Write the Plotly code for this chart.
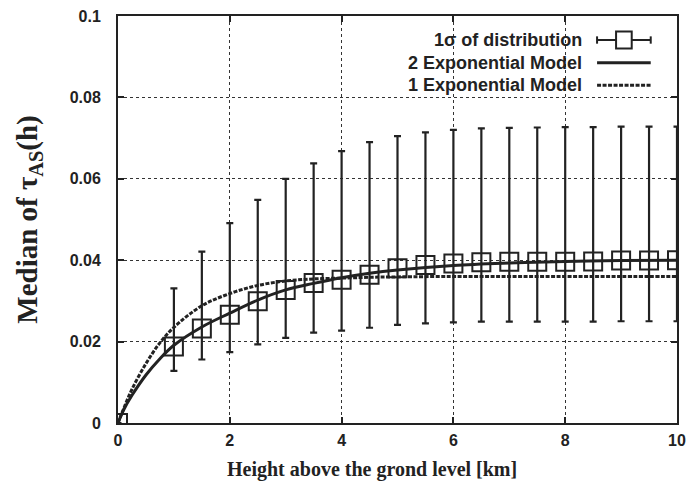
import plotly.graph_objects as go

# measured medians with 1 sigma spread
height_km = [0, 1, 1.5, 2, 2.5, 3, 3.5, 4, 4.5, 5, 5.5, 6, 6.5, 7, 7.5, 8, 8.5, 9, 9.5, 10]
median_tau = [0, 0.0188, 0.0232, 0.0266, 0.0299, 0.0327, 0.0344, 0.0352, 0.0364, 0.0380,
              0.0388, 0.0392, 0.0395, 0.0396, 0.0396, 0.0396, 0.0397, 0.0399, 0.0399, 0.0400]
sigma_upper = [0, 0.0331, 0.0421, 0.0491, 0.0548, 0.0600, 0.0638, 0.0668, 0.0690, 0.0705,
               0.0714, 0.0720, 0.0724, 0.0725, 0.0726, 0.0727, 0.0727, 0.0728, 0.0728, 0.0728]
sigma_lower = [0, 0.0128, 0.0156, 0.0174, 0.0193, 0.0209, 0.0222, 0.0227, 0.0234, 0.0241,
               0.0245, 0.0247, 0.0249, 0.0249, 0.0249, 0.0249, 0.0249, 0.0250, 0.0250, 0.0250]

# model curves
model_x = [0, 0.1, 0.25, 0.5, 0.75, 1, 1.5, 2, 2.5, 3, 3.5, 4, 4.5, 5, 6, 7, 8, 9, 10]
two_exp = [0, 0.0032, 0.0068, 0.0118, 0.0158, 0.0191, 0.0236, 0.0270, 0.0302, 0.0327,
           0.0343, 0.0357, 0.0368, 0.0376, 0.0387, 0.0393, 0.0397, 0.0399, 0.0400]
one_exp = [0, 0.0035, 0.0083, 0.0146, 0.0197, 0.0235, 0.0288, 0.0318, 0.0338, 0.0349,
           0.0354, 0.0356, 0.0358, 0.0359, 0.0360, 0.0360, 0.0360, 0.0360, 0.0360]

x_ticks = [0, 2, 4, 6, 8, 10]
y_ticks = [0, 0.02, 0.04, 0.06, 0.08, 0.1]
y_ticktext = ["0", "0.02", "0.04", "0.06", "0.08", "0.1"]

INK = "#222222"
SANS = "Liberation Sans"
SERIF = "Liberation Serif"
err_plus = [u - m for u, m in zip(sigma_upper, median_tau)]
err_minus = [m - l for m, l in zip(median_tau, sigma_lower)]

fig = go.Figure()

fig.add_trace(go.Scatter(x=model_x, y=two_exp, mode="lines", line_shape="spline",
                         line=dict(color=INK, width=3), name="2 Exponential Model"))
fig.add_trace(go.Scatter(x=model_x, y=one_exp, mode="lines", line_shape="spline",
                         line=dict(color=INK, width=3, dash="4px,1.5px"), name="1 Exponential Model"))
fig.add_trace(go.Scatter(x=height_km, y=median_tau, mode="markers",
                         marker=dict(symbol="square-open", size=18, color=INK, line=dict(width=2, color=INK)),
                         error_y=dict(type="data", symmetric=False, array=err_plus, arrayminus=err_minus,
                                      color=INK, thickness=2.2, width=3.5),
                         name="1σ of distribution"))

# legend drawn gnuplot style: text right-aligned, sample on the right
legend_rows = [("1σ of distribution", 0.941), ("2 Exponential Model", 0.885), ("1 Exponential Model", 0.830)]
shapes = [dict(type="rect", xref="paper", yref="paper", x0=0.50, x1=0.995, y0=0.785, y1=0.995,
               fillcolor="white", line=dict(width=0), layer="below")]
annotations = []
for label, yy in legend_rows:
    annotations.append(dict(text=label, xref="paper", yref="paper", x=0.834, y=yy, xanchor="right",
                            yanchor="middle", showarrow=False,
                            font=dict(family=SANS, size=18, color=INK, weight="bold")))
x0, x1 = 0.857, 0.953
ya, yb, yc = [r[1] for r in legend_rows]
shapes += [
    dict(type="line", xref="paper", yref="paper", x0=x0, x1=x1, y0=ya, y1=ya, line=dict(color=INK, width=2)),
    dict(type="line", xref="paper", yref="paper", x0=x0, x1=x0, y0=ya - 0.009, y1=ya + 0.009, line=dict(color=INK, width=2)),
    dict(type="line", xref="paper", yref="paper", x0=x1, x1=x1, y0=ya - 0.009, y1=ya + 0.009, line=dict(color=INK, width=2)),
    dict(type="rect", xref="paper", yref="paper", x0=0.891, x1=0.919, y0=ya - 0.021, y1=ya + 0.021,
         fillcolor="white", line=dict(color=INK, width=2)),
    dict(type="line", xref="paper", yref="paper", x0=x0, x1=x1, y0=yb, y1=yb, line=dict(color=INK, width=3)),
    dict(type="line", xref="paper", yref="paper", x0=x0, x1=x1, y0=yc, y1=yc,
         line=dict(color=INK, width=3, dash="4px,1.5px")),
]

# x title sits a bit left of centre in the original, so place it as an annotation
annotations.append(dict(text="Height above the grond level [km]", xref="paper", yref="paper",
                        x=0.454, y=-0.115, xanchor="center", yanchor="middle", showarrow=False,
                        font=dict(family=SERIF, size=20, color=INK, weight="bold")))

fig.update_layout(
    width=686, height=491,
    margin=dict(l=118, r=9, t=16, b=68, autoexpand=False),
    paper_bgcolor="white", plot_bgcolor="white",
    showlegend=False,
    shapes=shapes,
    annotations=annotations,
    xaxis=dict(range=[0, 10], tickvals=x_ticks, ticks="inside", ticklen=6, tickcolor=INK, tickwidth=1.5,
               showline=True, linecolor=INK, linewidth=2, mirror="ticks", zeroline=False,
               showgrid=True, gridcolor="#333333", gridwidth=1, griddash="dot",
               ticklabelstandoff=2, automargin=False,
               tickfont=dict(family=SANS, size=16, color=INK, weight="bold")),
    yaxis=dict(range=[0, 0.1], tickvals=y_ticks, ticktext=y_ticktext, ticks="inside", ticklen=6,
               tickcolor=INK, tickwidth=1.5,
               showline=True, linecolor=INK, linewidth=2, mirror="ticks", zeroline=False,
               showgrid=True, gridcolor="#333333", gridwidth=1, griddash="dot",
               ticklabelstandoff=12, automargin=False,
               tickfont=dict(family=SANS, size=16, color=INK, weight="bold"),
               title=dict(text="Median of τ<sub>AS</sub>(h)", standoff=24,
                          font=dict(family=SERIF, size=29, color=INK, weight="bold"))),
)

# drop the page margin and scrollbars so the 686x491 figure fills the window exactly
page_fix = """
document.documentElement.style.overflow = 'hidden';
document.body.style.margin = '0';
document.body.style.overflow = 'hidden';
var gd = document.getElementById('{plot_id}');
Plotly.relayout(gd, {width: 686, height: 491});
"""
fig.write_html("out.html", config={"displayModeBar": False}, post_script=page_fix)
